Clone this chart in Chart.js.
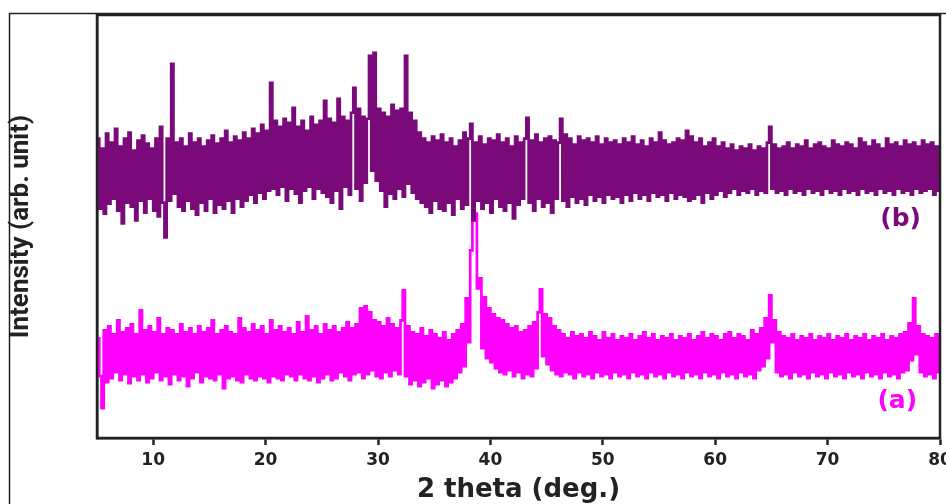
<!DOCTYPE html>
<html>
<head>
<meta charset="utf-8">
<script src="https://cdn.jsdelivr.net/npm/chart.js@4.4.1/dist/chart.umd.min.js"></script>
<style>
  html, body { margin: 0; padding: 0; background: #fff; }
  #wrap { width: 946px; height: 504px; }
</style>
</head>
<body>
<div id="wrap"><canvas id="xrd" width="946" height="504"></canvas></div>
<script>
// 2 theta grid: 5.0 .. 80.0, one reading every 0.2 deg (5 per row)
const thetaStart = 5;
const thetaStep = 0.2;

// (b) dark purple trace, upper pattern
const seriesB = [
  300, 230, 290, 225, 305,   // 5
  235, 296, 240, 310, 228,   // 6
  292, 215, 300, 236, 306,   // 7
  232, 288, 218, 298, 238,   // 8
  303, 226, 295, 240, 290,   // 9
  228, 300, 222, 312, 236,   // 10
  201, 300, 238, 375, 245,   // 11
  296, 232, 300, 228, 292,   // 12
  238, 305, 230, 296, 224,   // 13
  300, 236, 292, 228, 298,   // 14
  240, 303, 226, 295, 234,   // 15
  300, 230, 308, 238, 296,   // 16
  226, 302, 240, 298, 232,   // 17
  306, 238, 300, 244, 310,   // 18
  236, 305, 246, 314, 240,   // 19
  308, 248, 356, 250, 318,   // 20
  244, 312, 252, 320, 238,   // 21
  316, 250, 331, 245, 312,   // 22
  236, 318, 248, 308, 252,   // 23
  322, 240, 314, 250, 318,   // 24
  246, 338, 242, 320, 236,   // 25
  316, 248, 340, 230, 322,   // 26
  252, 318, 244, 326, 351,   // 27
  250, 330, 238, 322, 256,   // 28
  320, 383, 268, 386, 258,   // 29
  330, 248, 326, 232, 322,   // 30
  245, 334, 240, 328, 250,   // 31
  330, 242, 383, 255, 326,   // 32
  246, 318, 240, 306, 236,   // 33
  300, 232, 296, 226, 302,   // 34
  238, 298, 230, 304, 228,   // 35
  296, 236, 300, 224, 292,   // 36
  240, 298, 230, 306, 234,   // 37
  300, 315, 218, 296, 238,   // 38
  302, 230, 294, 236, 300,   // 39
  226, 298, 240, 304, 232,   // 40
  296, 228, 300, 236, 292,   // 41
  220, 302, 234, 296, 240,   // 42
  300, 321, 236, 298, 228,   // 43
  304, 240, 296, 232, 300,   // 44
  236, 302, 226, 298, 240,   // 45
  296, 320, 238, 304, 232,   // 46
  300, 242, 294, 236, 302,   // 47
  240, 298, 234, 300, 244,   // 48
  296, 238, 302, 242, 294,   // 49
  236, 300, 244, 296, 240,   // 50
  298, 242, 294, 236, 300,   // 51
  244, 296, 238, 302, 246,   // 52
  294, 240, 298, 244, 292,   // 53
  238, 300, 246, 296, 242,   // 54
  306, 244, 298, 238, 294,   // 55
  246, 296, 240, 300, 244,   // 56
  298, 242, 308, 238, 302,   // 57
  240, 296, 244, 300, 236,   // 58
  292, 246, 296, 240, 300,   // 59
  244, 292, 248, 296, 242,   // 60
  290, 246, 294, 250, 288,   // 61
  244, 292, 248, 290, 246,   // 62
  294, 250, 288, 244, 292,   // 63
  248, 290, 246, 296, 312,   // 64
  250, 294, 246, 290, 248,   // 65
  292, 244, 296, 250, 290,   // 66
  246, 294, 248, 292, 244,   // 67
  298, 250, 290, 246, 294,   // 68
  248, 296, 244, 292, 250,   // 69
  290, 246, 298, 248, 294,   // 70
  244, 292, 250, 296, 246,   // 71
  294, 248, 290, 244, 300,   // 72
  250, 296, 246, 292, 248,   // 73
  298, 244, 294, 250, 290,   // 74
  246, 300, 248, 294, 244,   // 75
  296, 250, 292, 246, 298,   // 76
  248, 294, 244, 296, 250,   // 77
  292, 246, 298, 248, 294,   // 78
  250, 296, 244, 292, 248,   // 79
  290                        // 80
];

// (a) magenta trace, lower pattern
const seriesA = [
  100, 62, 30, 108, 56,      // 5
  112, 60, 104, 66, 118,     // 6
  58, 106, 64, 110, 55,      // 7
  114, 62, 104, 58, 128,     // 8
  64, 108, 56, 112, 60,      // 9
  106, 66, 120, 58, 104,     // 10
  62, 110, 54, 108, 64,      // 11
  104, 58, 114, 62, 106,     // 12
  52, 110, 60, 104, 66,      // 13
  112, 56, 106, 62, 110,     // 14
  60, 118, 58, 104, 64,      // 15
  108, 50, 112, 60, 106,     // 16
  62, 104, 58, 120, 56,      // 17
  110, 64, 106, 60, 114,     // 18
  58, 108, 62, 112, 60,      // 19
  104, 56, 118, 62, 108,     // 20
  60, 112, 58, 106, 64,      // 21
  110, 62, 104, 58, 116,     // 22
  64, 106, 60, 122, 58,      // 23
  108, 62, 112, 56, 104,     // 24
  60, 114, 64, 108, 58,      // 25
  112, 60, 106, 66, 110,     // 26
  62, 116, 58, 110, 64,      // 27
  114, 66, 130, 60, 132,     // 28
  64, 126, 68, 118, 62,      // 29
  116, 60, 112, 66, 120,     // 30
  62, 114, 68, 110, 64,      // 31
  118, 148, 62, 112, 54,     // 32
  106, 58, 104, 52, 110,     // 33
  56, 102, 60, 108, 50,      // 34
  104, 54, 100, 58, 106,     // 35
  52, 98, 56, 104, 60,       // 36
  108, 66, 114, 72, 140,     // 37
  96, 188, 231, 225, 150,    // 38
  160, 90, 141, 80, 130,     // 39
  76, 124, 70, 120, 66,      // 40
  118, 64, 114, 68, 110,     // 41
  62, 112, 66, 106, 60,      // 42
  108, 64, 112, 62, 116,     // 43
  70, 126, 149, 82, 124,     // 44
  74, 120, 68, 112, 64,      // 45
  108, 62, 104, 66, 100,     // 46
  64, 106, 60, 102, 66,      // 47
  104, 62, 100, 64, 106,     // 48
  60, 102, 66, 98, 62,       // 49
  106, 64, 100, 60, 104,     // 50
  66, 98, 62, 102, 64,       // 51
  100, 60, 104, 66, 98,      // 52
  62, 102, 64, 106, 60,      // 53
  100, 66, 104, 62, 98,      // 54
  64, 102, 60, 100, 66,      // 55
  104, 62, 98, 64, 102,      // 56
  60, 100, 66, 104, 62,      // 57
  98, 64, 102, 60, 106,      // 58
  66, 100, 62, 104, 64,      // 59
  102, 60, 98, 66, 104,      // 60
  62, 106, 64, 100, 60,      // 61
  104, 66, 102, 62, 98,      // 62
  64, 108, 60, 104, 68,      // 63
  110, 72, 120, 80, 143,     // 64
  96, 118, 66, 106, 62,      // 65
  102, 64, 100, 60, 104,     // 66
  66, 98, 62, 102, 64,       // 67
  100, 60, 104, 66, 98,      // 68
  62, 102, 64, 100, 60,      // 69
  104, 66, 98, 62, 102,      // 70
  64, 100, 60, 104, 66,      // 71
  98, 62, 102, 64, 100,      // 72
  60, 104, 66, 98, 62,       // 73
  102, 64, 100, 60, 104,     // 74
  66, 98, 62, 102, 64,       // 75
  100, 60, 104, 66, 106,     // 76
  68, 115, 78, 140, 84,      // 77
  112, 66, 104, 62, 102,     // 78
  64, 100, 60, 104, 66,      // 79
  100                        // 80
];

const xTicks = [10, 20, 30, 40, 50, 60, 70, 80];
const traceLabels = [
  { text: "(b)", x: 76.5, y: 219, color: "#7a0a7a" },
  { text: "(a)", x: 76.2, y: 37, color: "#ff00ff" }
];

const toPoints = vals => vals.map((v, i) => ({ x: +(thetaStart + i * thetaStep).toFixed(1), y: v }));

// frame around the whole figure, box around the plot, and the (a)/(b) tags
const decor = {
  id: "decor",
  beforeDraw(chart){
    const c = chart.ctx;
    c.save();
    c.fillStyle = "#fff";
    c.fillRect(0, 0, chart.width, chart.height);
    c.strokeStyle = "#222";
    c.lineWidth = 1.5;
    c.strokeRect(9.5, 13.5, 960, 520);
    c.restore();
  },
  afterDraw(chart){
    const c = chart.ctx, a = chart.chartArea;
    c.save();
    c.strokeStyle = "#222";
    c.lineWidth = 2.5;
    c.strokeRect(a.left, a.top, a.right - a.left, a.bottom - a.top);
    c.font = "bold 25px 'DejaVu Sans', sans-serif";
    c.textAlign = "center";
    c.textBaseline = "middle";
    traceLabels.forEach(l => {
      c.fillStyle = l.color;
      c.fillText(l.text, chart.scales.x.getPixelForValue(l.x), chart.scales.y.getPixelForValue(l.y));
    });
    c.restore();
  }
};

new Chart(document.getElementById("xrd"), {
  type: "line",
  data: {
    datasets: [
      { label: "(b)", data: toPoints(seriesB), borderColor: "#7a0a7a", borderWidth: 2.7, pointRadius: 0, stepped: true },
      { label: "(a)", data: toPoints(seriesA), borderColor: "#ff00ff", borderWidth: 2.7, pointRadius: 0, stepped: true }
    ]
  },
  options: {
    responsive: false,
    animation: false,
    devicePixelRatio: 1,
    layout: { padding: { left: 0, top: 15, right: 6, bottom: 0 } },
    plugins: { legend: { display: false }, tooltip: { enabled: false } },
    scales: {
      x: {
        type: "linear", min: 5, max: 80,
        afterBuildTicks: s => { s.ticks = xTicks.map(v => ({ value: v })); },
        afterFit: s => { s.height = 66; s.paddingRight = 0; s.paddingLeft = 0; },
        grid: { drawOnChartArea: false, drawTicks: true, tickLength: 7, tickWidth: 2.5, tickColor: "#222" },
        border: { display: true, color: "#222", width: 2.5 },
        ticks: { color: "#222", padding: 5, maxRotation: 0, font: { family: "'DejaVu Sans', sans-serif", size: 17, weight: "bold" } },
        title: { display: true, text: "2 theta (deg.)", color: "#222", padding: { top: 0, bottom: -2 },
                 font: { family: "'DejaVu Sans', sans-serif", size: 26, weight: "bold" } }
      },
      y: {
        min: 0, max: 424,
        afterFit: s => { s.width = 97; },
        grid: { display: false },
        border: { display: true, color: "#222", width: 2.5 },
        ticks: { display: false },
        title: { display: true, text: "Intensity (arb. unit)", color: "#222", padding: { top: 6, bottom: 0 },
                 font: { family: "Roboto, 'Liberation Sans', sans-serif", size: 26, weight: "bold" } }
      }
    }
  },
  plugins: [decor]
});
</script>
</body>
</html>
